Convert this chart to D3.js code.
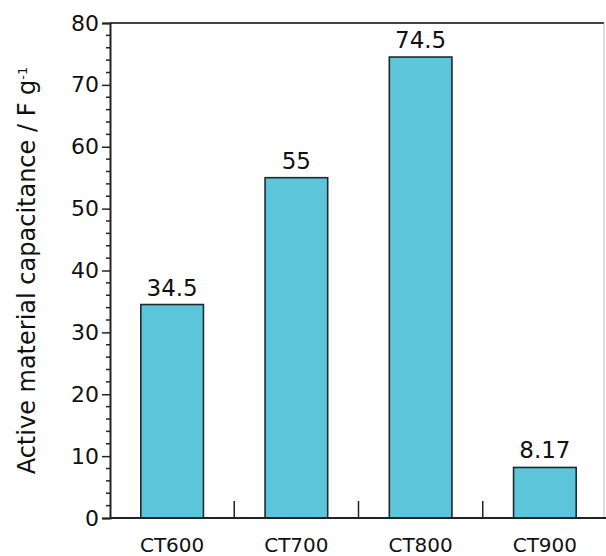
<!DOCTYPE html>
<html>
<head>
<meta charset="utf-8">
<script src="https://cdn.jsdelivr.net/npm/d3@7"></script>
<style>
  body { margin: 0; background: #fff; }
  text { font-family: "DejaVu Sans", sans-serif; fill: #111; }
</style>
</head>
<body>
<div id="chart"></div>
<script>
// data
const categories = ["CT600", "CT700", "CT800", "CT900"];
const capacitance = [34.5, 55, 74.5, 8.17];
const barLabels = ["34.5", "55", "74.5", "8.17"];
const yTicks = [0, 10, 20, 30, 40, 50, 60, 70, 80];

const margin = {top: 23, right: -1, bottom: 38, left: 110},
  width = 606 - margin.left - margin.right,
  height = 556 - margin.top - margin.bottom;

const svg = d3.select("#chart")
  .append("svg")
    .attr("width", 606)
    .attr("height", 556)
  .append("g")
    .attr("transform", "translate(" + margin.left + "," + margin.top + ")");

const x = d3.scaleBand()
  .domain(categories)
  .range([0, width])
  .paddingInner(0.496)
  .paddingOuter(0.248);

const y = d3.scaleLinear()
  .domain([0, 80])
  .range([height, 0]);

// frame: top line dark, right edge light
svg.append("line")
  .attr("x1", 0).attr("x2", 494)
  .attr("y1", 0).attr("y2", 0)
  .attr("stroke", "#444").attr("stroke-width", 2);
svg.append("line")
  .attr("x1", 494).attr("x2", 494)
  .attr("y1", 0).attr("y2", height)
  .attr("stroke", "#bbb").attr("stroke-width", 1);

// bars
svg.append("g")
  .selectAll("rect")
  .data(capacitance)
  .enter()
  .append("rect")
    .attr("x", (d, i) => x(categories[i]))
    .attr("y", d => y(d))
    .attr("width", x.bandwidth())
    .attr("height", d => height - y(d))
    .attr("fill", "#5cc5da")
    .attr("stroke", "#1d2a30")
    .attr("stroke-width", 1.6);

// value labels
svg.append("g")
  .selectAll("text")
  .data(capacitance)
  .enter()
  .append("text")
    .attr("x", (d, i) => x(categories[i]) + x.bandwidth() / 2)
    .attr("y", d => y(d) - 9)
    .attr("text-anchor", "middle")
    .style("font-size", "23px")
    .text((d, i) => barLabels[i]);

// x axis: baseline, separators between categories, labels below
svg.append("line")
  .attr("x1", 0).attr("x2", width)
  .attr("y1", height).attr("y2", height)
  .attr("stroke", "#222").attr("stroke-width", 2);
svg.append("g")
  .selectAll("line")
  .data(categories.slice(1))
  .enter()
  .append("line")
    .attr("x1", d => x(d) - x.step() * x.paddingInner() / 2)
    .attr("x2", d => x(d) - x.step() * x.paddingInner() / 2)
    .attr("y1", height)
    .attr("y2", height - 17)
    .attr("stroke", "#222").attr("stroke-width", 1.5);
svg.append("g")
  .selectAll("text")
  .data(categories)
  .enter()
  .append("text")
    .attr("x", d => x(d) + x.bandwidth() / 2)
    .attr("y", height + 34)
    .attr("text-anchor", "middle")
    .style("font-size", "20px")
    .text(d => d);

// y axis with minor ticks every 2
const yAxis = d3.axisLeft(y).tickValues(yTicks).tickSize(8).tickPadding(3);
const gy = svg.append("g").call(yAxis);
gy.select(".domain").attr("stroke", "#222").attr("stroke-width", 2);
gy.selectAll(".tick line").attr("stroke", "#222").attr("stroke-width", 1.5);
gy.selectAll(".tick text")
  .attr("fill", "#111")
  .style("font-size", "22px")
  .style("font-family", "DejaVu Sans, sans-serif");

const minor = d3.range(0, 81, 2).filter(v => v % 10 !== 0);
svg.append("g")
  .selectAll("line")
  .data(minor)
  .enter()
  .append("line")
    .attr("x1", -4).attr("x2", 0)
    .attr("y1", d => y(d)).attr("y2", d => y(d))
    .attr("stroke", "#222").attr("stroke-width", 1.5);

// y label
const yl = svg.append("text")
  .attr("transform", "translate(" + (-75) + "," + (height / 2) + ") rotate(-90)")
  .attr("text-anchor", "middle")
  .style("font-size", "24px");
yl.append("tspan").text("Active material capacitance / F g");
yl.append("tspan")
  .attr("dy", "-0.6em")
  .style("font-size", "13px")
  .text("-1");
</script>
</body>
</html>
